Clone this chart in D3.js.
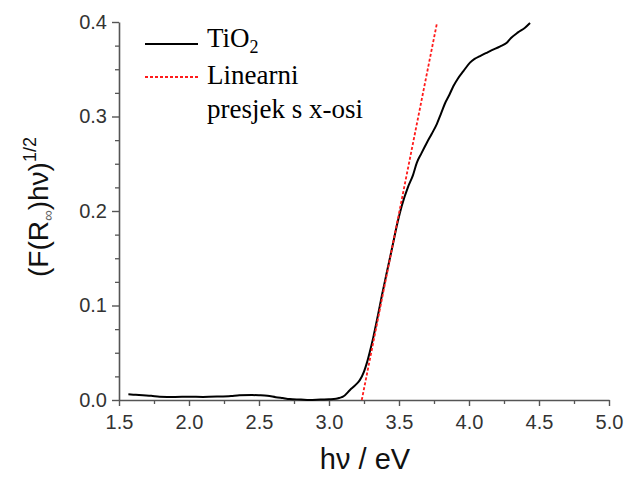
<!DOCTYPE html>
<meta charset="utf-8">
<head>
    <title>TiO2 Tauc plot</title>
    <script src="https://d3js.org/d3.v7.min.js"></script>
    <style>
        body { margin: 0; background: #fff; }
        .tick text { font-family: "Liberation Sans", Arial, sans-serif; }
    </style>
</head>
<body>
<svg id="chart"></svg>
<script>
    var width = 627, height = 477;

    // measured spectrum (hv in eV, (F(R)hv)^1/2)
    var energy = [1.567, 1.62, 1.67, 1.73, 1.79, 1.9, 2.0, 2.1, 2.2, 2.3, 2.36, 2.45, 2.5, 2.56, 2.62, 2.67, 2.72, 2.8, 2.86, 2.94,
                  3.0, 3.05, 3.08, 3.1, 3.15, 3.19, 3.22, 3.25, 3.27, 3.29, 3.316, 3.35, 3.377, 3.41, 3.448, 3.49, 3.519, 3.566, 3.6, 3.627,
                  3.66, 3.698, 3.735, 3.77, 3.8, 3.829, 3.86, 3.888, 3.92, 3.96, 4.007, 4.04, 4.079, 4.12, 4.16, 4.22, 4.27, 4.30, 4.35, 4.40, 4.436];
    var kubelka = [0.006, 0.0055, 0.005, 0.0045, 0.0035, 0.0032, 0.0035, 0.0033, 0.0036, 0.0042, 0.005, 0.0052, 0.005, 0.0045, 0.003, 0.002, 0.001, 0.0005, 0.0, 0.0005,
                   0.0008, 0.0012, 0.0025, 0.0035, 0.0106, 0.016, 0.021, 0.030, 0.039, 0.050, 0.066, 0.09, 0.11, 0.133, 0.159, 0.188, 0.205, 0.226, 0.238, 0.251,
                   0.261, 0.272, 0.282, 0.292, 0.303, 0.314, 0.323, 0.332, 0.34, 0.348, 0.357, 0.361, 0.364, 0.367, 0.37, 0.374, 0.378, 0.383, 0.389, 0.394, 0.399];

    // linear fit crossing the x axis
    var fitX = [3.234, 3.77];
    var fitY = [0, 0.398];

    var xTicks = [1.5, 2.0, 2.5, 3.0, 3.5, 4.0, 4.5, 5.0];
    var yTicks = [0.0, 0.1, 0.2, 0.3, 0.4];

    var svg = d3.select("#chart").attr("width", width).attr("height", height);

    var x = d3.scaleLinear().domain([1.5, 5.0]).range([119, 609]);
    var y = d3.scaleLinear().domain([0, 0.4]).range([400, 22]);

    var axisColor = "#555";

    // minor ticks
    svg.append("g").attr("transform", "translate(0,400)")
        .call(d3.axisBottom(x).tickValues(d3.range(1.75, 5, 0.5)).tickSize(4).tickFormat(""))
        .call(g => g.select(".domain").remove())
        .call(g => g.selectAll("line").attr("stroke", axisColor).attr("stroke-width", 1.3));
    svg.append("g").attr("transform", "translate(119,0)")
        .call(d3.axisLeft(y).tickValues(d3.range(0, 0.4, 0.025).filter((v, i) => i % 4 != 0)).tickSize(4).tickFormat(""))
        .call(g => g.select(".domain").remove())
        .call(g => g.selectAll("line").attr("stroke", axisColor).attr("stroke-width", 1.3));

    // major axes
    var xAxis = svg.append("g").attr("transform", "translate(0,400)")
        .call(d3.axisBottom(x).tickValues(xTicks).tickSize(6).tickSizeOuter(0).tickPadding(9).tickFormat(d3.format(".1f")));
    var yAxis = svg.append("g").attr("transform", "translate(119,0)")
        .call(d3.axisLeft(y).tickValues(yTicks).tickSize(7).tickSizeOuter(0).tickPadding(5).tickFormat(d3.format(".1f")));

    [xAxis, yAxis].forEach(function(a) {
        a.select(".domain").attr("stroke", axisColor).attr("stroke-width", 1.6);
        a.selectAll(".tick line").attr("stroke", axisColor).attr("stroke-width", 1.4);
        a.selectAll(".tick text").attr("fill", "#333").style("font-size", "20px");
    });

    // curve
    var pts = energy.map(function(e, i) { return [e, kubelka[i]]; });
    var line = d3.line().x(d => x(d[0])).y(d => y(d[1])).curve(d3.curveMonotoneX);
    svg.append("path").datum(pts).attr("d", line)
        .attr("fill", "none").attr("stroke", "#000").attr("stroke-width", 2);

    // fit line
    svg.append("path").datum(fitX.map((v, i) => [v, fitY[i]])).attr("d", d3.line().x(d => x(d[0])).y(d => y(d[1])))
        .attr("fill", "none").attr("stroke", "#ff1a1a").attr("stroke-width", 1.8).attr("stroke-dasharray", "3,2");

    // legend
    var lg = svg.append("g").style("font-family", "'Liberation Serif', 'Times New Roman', serif").style("font-size", "27px").attr("fill", "#000");
    lg.append("line").attr("x1", 145).attr("x2", 198).attr("y1", 44).attr("y2", 44).attr("stroke", "#000").attr("stroke-width", 2);
    lg.append("line").attr("x1", 145).attr("x2", 198).attr("y1", 77).attr("y2", 77)
        .attr("stroke", "#ff1a1a").attr("stroke-width", 1.8).attr("stroke-dasharray", "3,2");
    var t1 = lg.append("text").attr("x", 207).attr("y", 47).text("TiO");
    t1.append("tspan").attr("dy", 6).style("font-size", "18px").text("2");
    lg.append("text").attr("x", 207).attr("y", 84).text("Linearni");
    lg.append("text").attr("x", 207).attr("y", 118).text("presjek s x-osi");

    // axis titles
    svg.append("text").attr("x", 365).attr("y", 469).attr("text-anchor", "middle")
        .style("font-family", "'Liberation Sans', Arial, sans-serif").style("font-size", "29px").attr("fill", "#111")
        .text("hν / eV");

    var yl = svg.append("text").attr("transform", "translate(48,207) rotate(-90)").attr("text-anchor", "middle")
        .style("font-family", "'Liberation Sans', Arial, sans-serif").style("font-size", "28px").attr("fill", "#111");
    yl.append("tspan").text("(F(R");
    yl.append("tspan").attr("dy", 5).style("font-size", "15px").attr("fill", "#666").text("∞");
    yl.append("tspan").attr("dy", -5).text(")hν)");
    yl.append("tspan").attr("dy", -12).style("font-size", "18px").text("1/2");
</script>
</body>
</html>
